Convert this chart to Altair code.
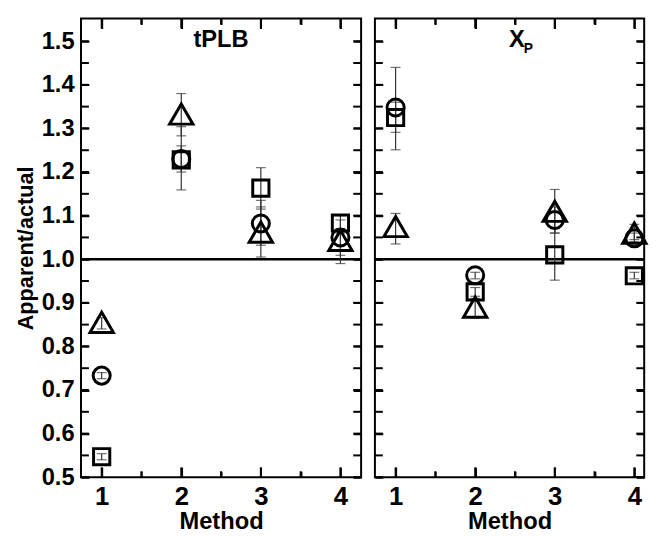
import altair as alt
import pandas as pd

# ---------------- data ----------------
methods = [1, 2, 3, 4]

# tPLB panel
tplb_square = [0.547, 1.228, 1.163, 1.083]
tplb_square_lo = [0.540, 1.200, 1.115, 1.060]
tplb_square_hi = [0.554, 1.260, 1.210, 1.100]
tplb_circle = [0.733, 1.230, 1.082, 1.050]
tplb_circle_lo = [0.726, 1.159, 1.032, 1.009]
tplb_circle_hi = [0.740, 1.304, 1.135, 1.090]
tplb_triangle = [0.855, 1.333, 1.062, 1.043]
tplb_triangle_lo = [0.840, 1.283, 1.005, 0.990]
tplb_triangle_hi = [0.866, 1.380, 1.120, 1.070]

# X_P panel
xp_square = [1.325, 0.925, 1.010, 0.962]
xp_square_lo = [1.291, 0.915, 0.952, 0.955]
xp_square_hi = [1.360, 0.935, 1.070, 0.970]
xp_circle = [1.348, 0.963, 1.090, 1.048]
xp_circle_lo = [1.251, 0.955, 1.060, 1.040]
xp_circle_hi = [1.440, 0.970, 1.120, 1.060]
xp_triangle = [1.075, 0.890, 1.110, 1.060]
xp_triangle_lo = [1.035, 0.865, 1.060, 1.045]
xp_triangle_hi = [1.105, 0.910, 1.160, 1.080]

reference_value = [1.0]
y_ticks = [0.5, 0.55, 0.6, 0.65, 0.7, 0.75, 0.8, 0.85, 0.9, 0.95, 1.0,
           1.05, 1.1, 1.15, 1.2, 1.25, 1.3, 1.35, 1.4, 1.45, 1.5]
x_ticks = [1, 1.5, 2, 2.5, 3, 3.5, 4]
x_major_ticks = [1, 2, 3, 4]
x_minor_ticks = [1.5, 2.5, 3.5]


def build_df(sq, sql, sqh, ci, cil, cih, tr, trl, trh):
    rows = []
    for name, v, lo, hi in (("square", sq, sql, sqh),
                            ("circle", ci, cil, cih),
                            ("triangle", tr, trl, trh)):
        for m, a, b, c in zip(methods, v, lo, hi):
            rows.append({"method": m, "series": name, "value": a, "lo": b, "hi": c})
    return pd.DataFrame(rows)


df_tplb = build_df(tplb_square, tplb_square_lo, tplb_square_hi,
                   tplb_circle, tplb_circle_lo, tplb_circle_hi,
                   tplb_triangle, tplb_triangle_lo, tplb_triangle_hi)
df_xp = build_df(xp_square, xp_square_lo, xp_square_hi,
                 xp_circle, xp_circle_lo, xp_circle_hi,
                 xp_triangle, xp_triangle_lo, xp_triangle_hi)

H = 465
FONT = "Liberation Sans"
YDOM = [0.5, 1.552]
ERR = "#333333"


def panel(df, W, xdom, show_y, title_layers):
    xs = alt.Scale(domain=xdom, nice=False, zero=False)
    ys = alt.Scale(domain=YDOM, nice=False, zero=False)

    y_axis = alt.Axis(
        values=y_ticks, labels=show_y,
        labelExpr="abs(datum.value*10 - round(datum.value*10)) < 0.01 ? format(datum.value, '.1f') : ''",
        labelFont=FONT, labelFontSize=24, labelFontWeight="bold",
        labelColor="black", labelPadding=7, ticks=False, domain=False,
        grid=True, gridColor="black", gridWidth=2, gridOpacity=1,
        gridDash=[8, W - 16],
        title="Apparent/actual" if show_y else "",
        titleFont=FONT, titleFontSize=22, titleFontWeight="bold",
        titleColor="black", titlePadding=4,
    )
    x_axis = alt.Axis(
        values=x_ticks,
        labelExpr="datum.value % 1 === 0 ? format(datum.value, 'd') : ''",
        labelFont=FONT, labelFontSize=26, labelFontWeight="bold",
        labelColor="black", labelPadding=7, ticks=False, domain=False,
        grid=True, gridColor="black", gridWidth=2, gridOpacity=1,
        gridDash={"condition": {"test": "datum.value % 1 === 0", "value": [10, H - 20]},
                  "value": [6, H - 12]},
        title="Method", titleFont=FONT, titleFontSize=24,
        titleFontWeight="bold", titleColor="black", titlePadding=0,
    )

    hline = alt.Chart(pd.DataFrame({"y": reference_value})).mark_rule(
        color="black", strokeWidth=2.5
    ).encode(y=alt.Y("y:Q", scale=ys, axis=y_axis))

    bars = alt.Chart(df).mark_rule(color=ERR, strokeWidth=1.2).encode(
        x=alt.X("method:Q", scale=xs, axis=x_axis),
        y=alt.Y("lo:Q", scale=ys),
        y2="hi:Q",
    )
    cap_lo = alt.Chart(df).mark_tick(orient="horizontal", color=ERR,
                                     thickness=1.2, size=10).encode(
        x=alt.X("method:Q", scale=xs),
        y=alt.Y("lo:Q", scale=ys),
    )
    cap_hi = alt.Chart(df).mark_tick(orient="horizontal", color=ERR,
                                     thickness=1.2, size=10).encode(
        x=alt.X("method:Q", scale=xs),
        y=alt.Y("hi:Q", scale=ys),
    )

    def pts(name, shape, size):
        return alt.Chart(df).transform_filter(
            alt.datum.series == name
        ).mark_point(shape=shape, size=size, filled=False, color="black",
                     strokeWidth=3, opacity=1).encode(
            x=alt.X("method:Q", scale=xs),
            y=alt.Y("value:Q", scale=ys),
        )

    sq = pts("square", "square", 270)
    ci = pts("circle", "circle", 300)
    tr = pts("triangle", "triangle-up", 560)

    # inward tick segments on all four sides, drawn as short rules
    ydf = pd.DataFrame({"v": y_ticks})
    ytick_l = alt.Chart(ydf).mark_rule(color="black", strokeWidth=2).encode(
        y=alt.Y("v:Q", scale=ys), x=alt.value(0), x2=alt.value(8))
    ytick_r = alt.Chart(ydf).mark_rule(color="black", strokeWidth=2).encode(
        y=alt.Y("v:Q", scale=ys), x=alt.value(W - 8), x2=alt.value(W))
    xticks = []
    for vals, sz in ((x_major_ticks, 10), (x_minor_ticks, 6)):
        for y0, y1 in ((0, sz), (H - sz, H)):
            xticks.append(alt.Chart(pd.DataFrame({"v": vals})).mark_rule(
                color="black", strokeWidth=2
            ).encode(x=alt.X("v:Q", scale=xs), y=alt.value(y0), y2=alt.value(y1)))

    layers = ([hline, bars, cap_lo, cap_hi, sq, ci, tr, ytick_l, ytick_r] +
              xticks + title_layers(W))
    return alt.layer(*layers).properties(width=W, height=H)


def tplb_title(W):
    return [alt.Chart(pd.DataFrame({"t": ["tPLB"]})).mark_text(
        font=FONT, fontSize=24, fontWeight="bold", color="black",
        align="center", baseline="alphabetic"
    ).encode(text="t:N", x=alt.value(W / 2), y=alt.value(29))]


def xp_title(W):
    big = alt.Chart(pd.DataFrame({"t": ["X"]})).mark_text(
        font=FONT, fontSize=24, fontWeight="bold", color="black",
        align="left", baseline="alphabetic"
    ).encode(text="t:N", x=alt.value(136), y=alt.value(29))
    sub = alt.Chart(pd.DataFrame({"t": ["P"]})).mark_text(
        font=FONT, fontSize=14, fontWeight="bold", color="black",
        align="left", baseline="alphabetic"
    ).encode(text="t:N", x=alt.value(151), y=alt.value(35))
    return [big, sub]


left = panel(df_tplb, 284, [0.74, 4.26], True, tplb_title)
right = panel(df_xp, 273, [0.74, 4.124], False, xp_title)

chart = alt.hconcat(left, right, spacing=8).resolve_scale(
    x="independent", y="independent"
).configure_view(stroke="black", strokeWidth=2)

chart.save("out.html", embed_options={"renderer": "svg", "actions": False})
